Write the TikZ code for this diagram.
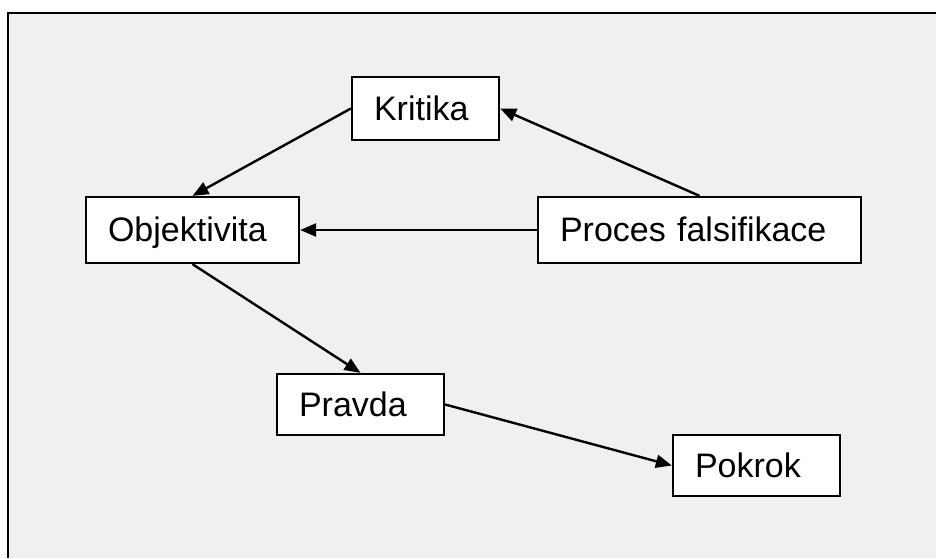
\documentclass[tikz,border=0pt]{standalone}
\usepackage{fontspec}
\setmainfont{Liberation Sans}
\usetikzlibrary{arrows.meta}
\definecolor{panel}{HTML}{F0F0F0}
\begin{document}
\begin{tikzpicture}[x=1pt,y=-1pt,
  conceptbox/.style={draw=black, line width=2.3pt, fill=white, rectangle,
    inner xsep=22pt, inner ysep=0pt, align=left,
    text height=23pt, text depth=0pt,
    font=\fontsize{34}{40}\selectfont},
  link/.style={line width=2.4pt, -{Triangle[length=16pt,width=13pt]}}]
  % page and panel
  \fill[white] (0,0) rectangle (936,558);
  \useasboundingbox (0,0) rectangle (936,558);
  \fill[panel] (7.5,12.5) rectangle (936,558);
  \draw[line width=2pt] (7.5,558) -- (7.5,12.5) -- (936,12.5);
  % concepts
  \node[conceptbox, text width=103pt, minimum height=63pt] (krit) at (425.5,108.5) {Kritika};
  \node[conceptbox, text width=169pt, minimum height=66pt] (obj)  at (192.5,230) {Objektivita};
  \node[conceptbox, text width=279pt, minimum height=66pt] (proc) at (699.5,230) {Proces falsifikace};
  \node[conceptbox, text width=123pt, minimum height=61pt] (prav) at (360.5,404.5) {Pravda};
  \node[conceptbox, text width=123pt, minimum height=61pt] (pok)  at (756.5,465.5) {Pokrok};
  % relations
  \draw[link] (krit.west) -- (obj.north);
  \draw[link] (proc.north) -- (krit.east);
  \draw[link] (proc.west) -- (obj.east);
  \draw[link] (obj.south) -- (prav.north);
  \draw[link] (prav.east) -- (pok.west);
\end{tikzpicture}
\end{document}
